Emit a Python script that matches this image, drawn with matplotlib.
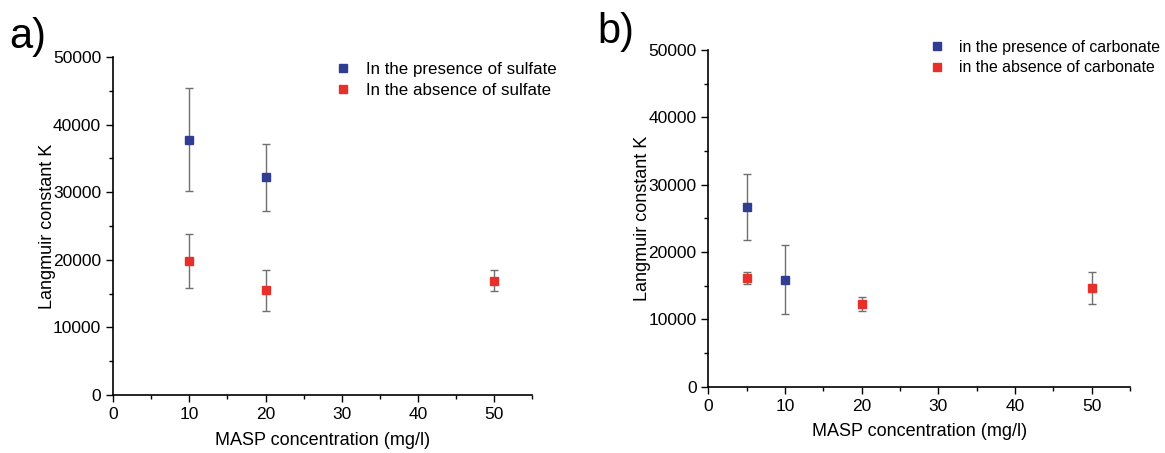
import matplotlib

matplotlib.use("Agg")
import matplotlib.pyplot as plt
from matplotlib.ticker import MultipleLocator

plt.rcParams["font.family"] = ["Liberation Sans", "DejaVu Sans"]

BLUE = "#2f3e92"
RED = "#e8302a"
ERR = "#707070"

# panel a: sulfate
a_pres_x = [10, 20]
a_pres_y = [37800, 32200]
a_pres_err = [7650, 5000]
a_abs_x = [10, 20, 50]
a_abs_y = [19800, 15500, 16900]
a_abs_err = [4000, 3000, 1550]

# panel b: carbonate
b_pres_x = [5, 10]
b_pres_y = [26700, 15900]
b_pres_err = [4950, 5100]
b_abs_x = [5, 20, 50]
b_abs_y = [16200, 12300, 14700]
b_abs_err = [900, 1100, 2350]

fig = plt.figure(figsize=(11.65, 4.53), dpi=100)
ax_a = fig.add_axes([0.097, 0.128, 0.360, 0.746])
ax_b = fig.add_axes([0.608, 0.146, 0.362, 0.744])


def draw(ax, px, py, pe, ax_, ay, ae, labels, leg_anchor, leg_size):
    ax.errorbar(px, py, yerr=pe, fmt="s", color=BLUE, ms=5.5, ecolor=ERR,
                elinewidth=1, capsize=3, capthick=1, label=labels[0])
    ax.errorbar(ax_, ay, yerr=ae, fmt="s", color=RED, ms=5.5, ecolor=ERR,
                elinewidth=1, capsize=3, capthick=1, label=labels[1])
    ax.set_xlim(0, 55)
    ax.set_ylim(0, 50000)
    ax.xaxis.set_major_locator(MultipleLocator(10))
    ax.xaxis.set_minor_locator(MultipleLocator(5))
    ax.yaxis.set_major_locator(MultipleLocator(10000))
    ax.yaxis.set_minor_locator(MultipleLocator(5000))
    ax.tick_params(which="major", length=5, width=1, labelsize=12.5, direction="out")
    ax.tick_params(which="minor", length=3, width=1, direction="out")
    for s in ("top", "right"):
        ax.spines[s].set_visible(False)
    for s in ("left", "bottom"):
        ax.spines[s].set_linewidth(1.2)
    ax.set_xlabel("MASP concentration (mg/l)", fontsize=13, labelpad=7)
    ax.set_ylabel("Langmuir constant K", fontsize=13, labelpad=-2)
    handles, labs = ax.get_legend_handles_labels()
    handles = [h[0] for h in handles]
    ax.legend(handles, labs, loc="upper left", frameon=False, fontsize=leg_size,
              handlelength=1.0, handletextpad=0.9, labelspacing=0.35,
              borderaxespad=0, borderpad=0, bbox_to_anchor=leg_anchor)


draw(ax_a, a_pres_x, a_pres_y, a_pres_err, a_abs_x, a_abs_y, a_abs_err,
     ["In the presence of sulfate", "In the absence of sulfate"], (0.527, 0.985), 12.2)
draw(ax_b, b_pres_x, b_pres_y, b_pres_err, b_abs_x, b_abs_y, b_abs_err,
     ["in the presence of carbonate", "in the absence of carbonate"], (0.524, 1.03), 11.4)

fig.text(0.008, 0.893, "a)", fontsize=30)
fig.text(0.513, 0.905, "b)", fontsize=30)

fig.savefig("out.png", dpi=100)
